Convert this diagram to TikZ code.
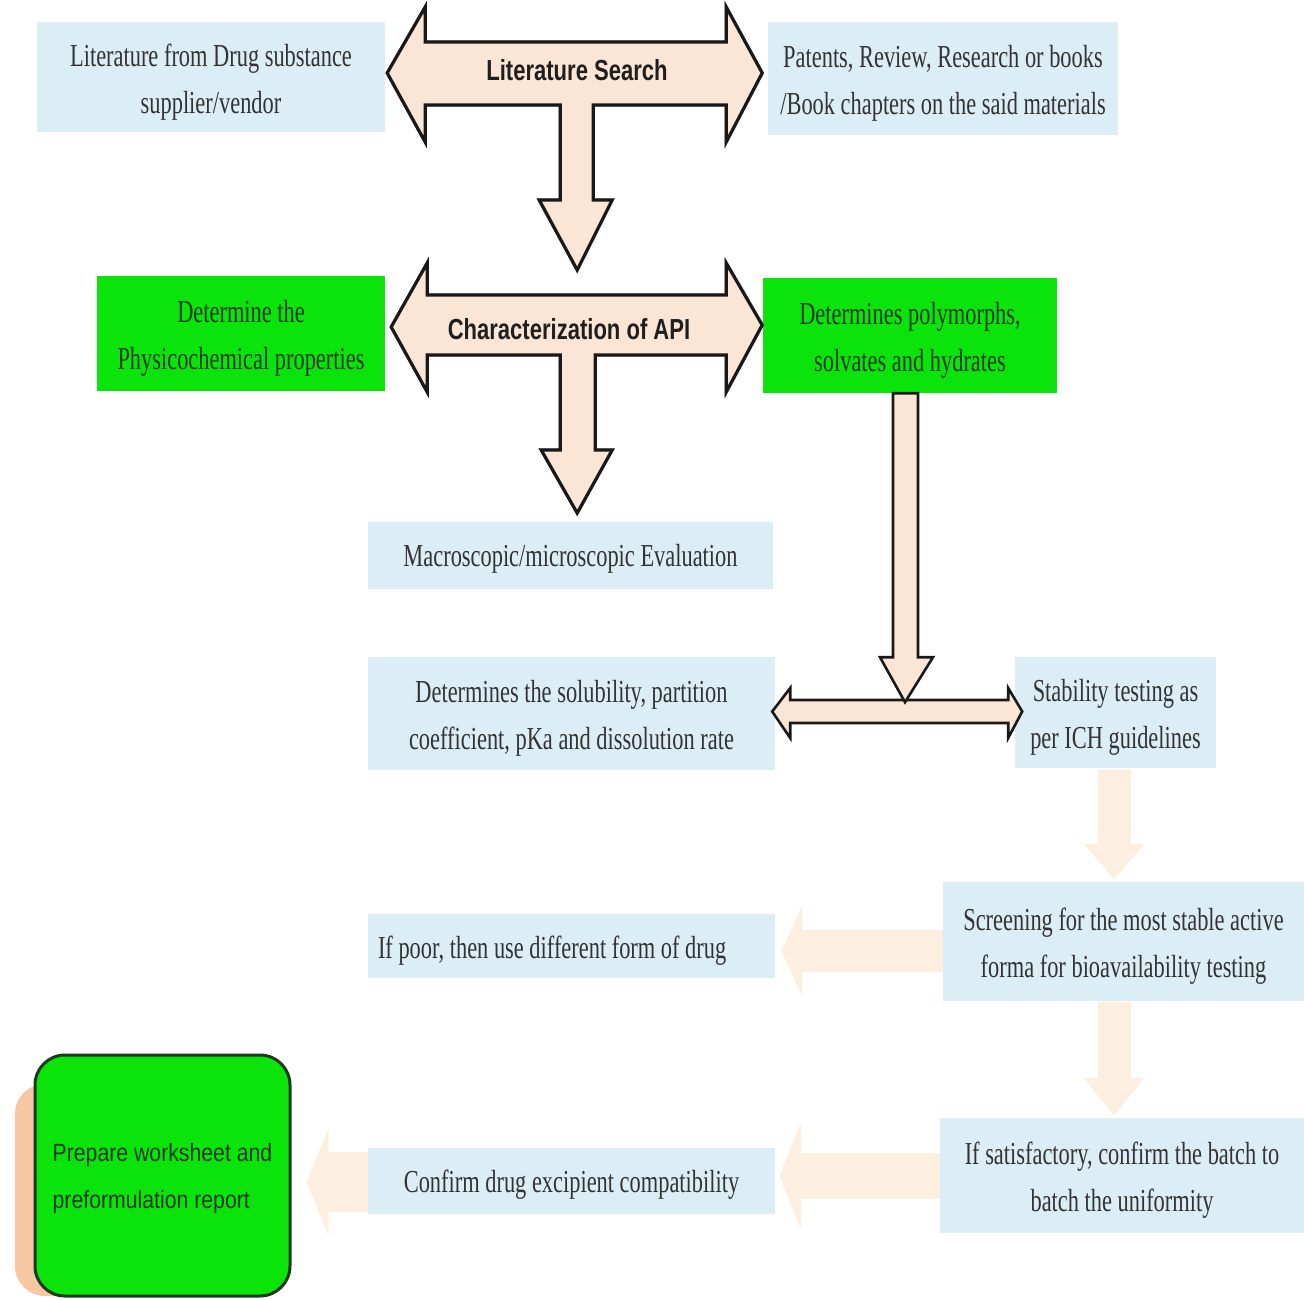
\documentclass[tikz,border=0pt]{standalone}
\usepackage{fontspec}
\usetikzlibrary{arrows.meta,calc}
\setmainfont{Liberation Serif}
\newfontfamily\bodyfont[FakeStretch=0.70]{Liberation Serif}
\newfontfamily\labelfont[FakeStretch=0.76]{Liberation Sans Bold}
\newfontfamily\prepfont[FakeStretch=0.85]{Liberation Sans}

\definecolor{boxblue}{HTML}{DCEEF5}
\definecolor{boxgreen}{HTML}{0BE40B}
\definecolor{peach}{HTML}{FBE6D5}
\definecolor{paleflow}{HTML}{FDEFDF}
\definecolor{inktext}{HTML}{333333}
\definecolor{greentext}{HTML}{1E3A1E}
\definecolor{reportshade}{HTML}{F7C6A2}

\tikzset{
  infobox/.style={fill=boxblue, draw=none, inner sep=0pt},
  greenbox/.style={infobox, fill=boxgreen},
  boxtext/.style={align=center, inner sep=0pt, yshift=-5pt,
    font=\bodyfont\fontsize{32}{47}\selectfont, text=inktext},
  greentext/.style={boxtext, text=greentext},
  blockarrow/.style={draw=black!90, line width=3.2pt, fill=peach, line join=miter},
  blockshadow/.style={draw=black!35, line width=3.2pt},
  arrowlabel/.style={font=\labelfont\fontsize{29}{34}\selectfont, text=black!88},
  fadearrow/.style n args={3}{draw=paleflow, line width=#1,
    -{Triangle[width=#2, length=#3]}},
}

\begin{document}
\begin{tikzpicture}[x=1pt, y=-1pt]
\useasboundingbox (0,0) rectangle (1304,1300);
\fill[white] (0,0) rectangle (1304,1300);

% ---- text boxes ----
\node[infobox, minimum width=348pt, minimum height=110pt,
  label={[boxtext, name=lit-text]center:{Literature from Drug substance\\supplier/vendor}}]
  (lit) at (211,77) {};
\node[infobox, minimum width=350pt, minimum height=113pt,
  label={[boxtext, name=pat-text]center:{Patents, Review, Research or books\\/Book chapters on the said materials}}]
  (pat) at (943,78.5) {};
\node[greenbox, minimum width=288pt, minimum height=115pt,
  label={[greentext, name=phys-text]center:{Determine the\\Physicochemical properties}}]
  (phys) at (241,333.5) {};
\node[greenbox, minimum width=294pt, minimum height=115pt,
  label={[greentext, name=poly-text]center:{Determines polymorphs,\\solvates and hydrates}}]
  (poly) at (910,335.5) {};
\node[infobox, minimum width=405pt, minimum height=67pt,
  label={[boxtext, name=macro-text, yshift=2pt]center:{Macroscopic/microscopic Evaluation}}]
  (macro) at (570.5,555.5) {};
\node[infobox, minimum width=407pt, minimum height=113pt,
  label={[boxtext, name=solub-text]center:{Determines the solubility, partition\\coefficient, pKa and dissolution rate}}]
  (solub) at (571.5,713.5) {};
\node[infobox, minimum width=201pt, minimum height=111pt,
  label={[boxtext, name=stab-text]center:{Stability testing as\\per ICH guidelines}}]
  (stab) at (1115.5,712.5) {};
\node[infobox, minimum width=361pt, minimum height=119pt,
  label={[boxtext, name=screen-text]center:{Screening for the most stable active\\forma for bioavailability testing}}]
  (screen) at (1123.5,941.5) {};
\node[infobox, minimum width=407pt, minimum height=64pt] (poor) at (571.5,946) {};
\node[boxtext, anchor=west, name=poor-text] at ($(poor.west)+(10,0)$)
  {If poor, then use different form of drug};
\node[infobox, minimum width=364pt, minimum height=115pt,
  label={[boxtext, name=satis-text]center:{If satisfactory, confirm the batch to\\batch the uniformity}}]
  (satis) at (1122,1175.5) {};
\node[infobox, minimum width=407pt, minimum height=66pt,
  label={[boxtext, name=confirm-text, yshift=1pt]center:{Confirm drug excipient compatibility}}]
  (confirm) at (571.5,1181) {};

% ---- final report box with its offset shade ----
\fill[reportshade, rounded corners=30pt] (15,1084) rectangle (270,1296);
\node[draw=greentext, line width=3pt, fill=boxgreen, rounded corners=30pt,
  minimum width=255pt, minimum height=241pt, inner sep=0pt,
  label={[name=prep-text, align=left, inner sep=0pt, yshift=-3pt,
    font=\prepfont\fontsize{25}{47}\selectfont, text=greentext]center:{Prepare worksheet and\\preformulation report}}]
  (prep) at (162.5,1175.5) {};

% ---- literature search block arrow ----
\draw[blockshadow, shift={(1.5,2.5)}] ($(lit.east)+(2,-4)$)
  --++(38,-66) --++(0,35) --++(301,0) --++(0,-35) --++(36,66) --++(-36,69)
  --++(0,-37) --++(-133,0) --++(0,95) --++(19,0) --++(-35,70) --++(-38,-70)
  --++(21,0) --++(0,-95) --++(-135,0) --++(0,37) -- cycle;
\draw[blockarrow] ($(lit.east)+(2,-4)$)
  --++(38,-66) --++(0,35) --++(301,0) --++(0,-35) --++(36,66) --++(-36,69)
  --++(0,-37) --++(-133,0) --++(0,95) --++(19,0) --++(-35,70) --++(-38,-70)
  --++(21,0) --++(0,-95) --++(-135,0) --++(0,37) -- cycle;
\node[arrowlabel] (litsearch) at (577,70) {Literature Search};

% ---- characterization block arrow ----
\draw[blockshadow, shift={(1.5,2.5)}] ($(phys.east)+(6,-6.5)$)
  --++(36,-64) --++(0,32) --++(299,0) --++(0,-32) --++(36,62) --++(-36,67)
  --++(0,-37) --++(-131,0) --++(0,95) --++(17,0) --++(-35,63) --++(-36,-63)
  --++(19,0) --++(0,-95) --++(-133,0) --++(0,37) -- cycle;
\draw[blockarrow] ($(phys.east)+(6,-6.5)$)
  --++(36,-64) --++(0,32) --++(299,0) --++(0,-32) --++(36,62) --++(-36,67)
  --++(0,-37) --++(-131,0) --++(0,95) --++(17,0) --++(-35,63) --++(-36,-63)
  --++(19,0) --++(0,-95) --++(-133,0) --++(0,37) -- cycle;
\node[arrowlabel] (charapi) at (569,329) {Characterization of API};

% ---- split arrow between solubility and stability ----
\draw[blockarrow, line width=2.6pt] ($(solub.east)+(-3,-2)$)
  --++(18,-23.5) --++(0,12) --++(218,0) --++(0,-12) --++(14,23.5) --++(-14,26.5)
  --++(0,-15) --++(-218,0) --++(0,15) -- cycle;
% ---- long arrow down from the polymorph box ----
\draw[blockarrow, line width=2.6pt] ($(poly.south)+(-17,0)$)
  --++(25,0) --++(0,264) --++(15,0) --++(-28,45) --++(-25,-45) --++(13,0) -- cycle;

% ---- pale flow arrows ----
\draw[fadearrow={33pt}{58pt}{36pt}] ($(stab.south)+(-1.5,2)$)
  -- ($(screen.north -| stab.south)+(-1.5,-2)$);
\draw[fadearrow={42pt}{90pt}{21pt}, shorten >=6pt] (screen.west |- 0,951) -- (poor.east |- 0,951);
\draw[fadearrow={33pt}{58pt}{38pt}] ($(screen.south -| stab.south)+(-1.5,1)$)
  -- ($(satis.north -| stab.south)+(-1.5,-2)$);
\draw[fadearrow={46pt}{107pt}{22pt}, shorten >=4pt] (satis.west |- 0,1176) -- (confirm.east |- 0,1176);
\draw[fadearrow={60pt}{106pt}{22pt}, shorten >=15pt] (confirm.west |- 0,1182) -- (prep.east |- 0,1182);
\end{tikzpicture}
\end{document}
